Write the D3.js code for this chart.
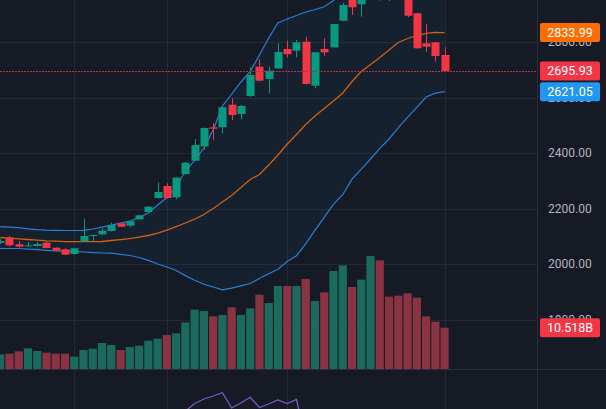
<!DOCTYPE html>
<html><head><meta charset="utf-8">
<script src="https://cdn.jsdelivr.net/npm/d3@7"></script>
<style>html,body{margin:0;padding:0;background:#161a25;overflow:hidden}</style>
</head><body><svg id="c" width="606" height="409"></svg>
<script>
// ---- data ----
const opens  = [2075.7,2096.2,2071,2063.8,2064.9,2076.8,2058.7,2053,2036,2081.8,2100.9,2107,2118.9,2146.7,2138,2161.1,2187.4,2237.8,2281.1,2240.4,2324.3,2372.2,2423.4,2492.6,2492.6,2574.1,2540.5,2605.4,2711,2666.7,2705.2,2774.8,2768.6,2801.1,2642.5,2774.8,2780.9,2876.7,2965,2935.9,2970,3020,2990,2975,2990,2903.4,2795.3,2798.9,2753.2];
const highs  = [2090,2100.9,2082.9,2079.3,2080.4,2081,2060,2058.7,2058,2163.2,2106.3,2128.6,2148.8,2148,2155,2177,2208,2293,2290.8,2313,2367,2450.5,2492,2508.1,2566,2597.1,2573,2708.8,2737.7,2711,2795.3,2804.7,2807.2,2819.1,2764,2813.3,2866,2941.6,2975,2985,3025,3030,3000,2985,3000,2905,2864.9,2800,2780.9];
const lows   = [2072,2063,2059.5,2061.3,2063,2056,2046,2032.4,2034,2079.3,2080.4,2105,2117,2133,2132.3,2160,2186,2236,2236,2233.2,2322,2370,2410.8,2446.8,2471,2518.9,2521.4,2603,2658,2615.1,2703,2744.9,2744.9,2647,2633.2,2750.6,2779,2875,2897.3,2891.2,2960,2949,2948,2955,2890,2776,2765,2729,2695];
const closes = [2082.9,2067.4,2062.3,2067.4,2072.1,2057.7,2047.9,2033.5,2056.6,2100.9,2104.5,2120,2140.5,2134.4,2153.9,2175.5,2206.5,2259.5,2237.8,2311,2365,2428.8,2490.1,2487.6,2564.7,2537,2569.4,2681.1,2660.5,2696.6,2764,2755.7,2798.9,2648.6,2762.9,2762.9,2864.9,2933.3,2925,2970,3010,2980,2965,2960,2894.8,2777.3,2783.1,2749.5,2695.93];
const volumes = [3.73,3.90,4.50,5.26,4.58,4.16,3.90,3.90,3.14,4.83,5.17,6.62,6.11,4.83,5.60,5.94,7.21,7.72,8.65,9.08,11.87,15.10,14.76,13.40,13.74,15.69,13.74,15.44,18.91,16.79,21.12,21.12,21.12,22.90,17.30,19.51,24.94,26.38,20.87,22.73,28.75,27.65,18.41,18.66,19.25,18.15,13.40,12.04,10.518];
const bbBasis = [2095.5,2093,2090.5,2088.3,2085.8,2083.6,2082.2,2080.7,2080.4,2080.4,2080.4,2081.1,2084.7,2087.9,2091.2,2096.6,2102.7,2111.7,2121.8,2134.4,2147.7,2161.4,2178.4,2200,2223.4,2246.8,2275.7,2304.5,2322.5,2356.8,2392.8,2432.4,2466.7,2502.7,2533.3,2560.4,2587.4,2616.2,2657.7,2693.7,2718.9,2744.1,2771.2,2798.2,2812.6,2823.4,2831.3,2834.5,2833.99];
const bbUpper = [2134.4,2132.6,2131.2,2126.8,2123.6,2121.8,2121.1,2120.7,2120.7,2121.1,2126.1,2132.6,2139.8,2147.7,2154.2,2167.6,2183.8,2212.6,2239.6,2277.5,2335.1,2373,2418,2482.9,2569.4,2612.6,2655.9,2693.7,2753.2,2814.4,2868.5,2882.9,2895.5,2908.1,2917.1,2927.2,2949.5,2982.7,3009.5,3045.4,3059.4,3071.6,3091.9,3105.2,3096.6,3082.1,3060.8,3052.9,3046.9];
const bbLower = [2055.9,2055.9,2055.9,2053.7,2051.5,2049.4,2047.6,2046.1,2044.7,2043.2,2041.1,2039.6,2039.3,2035,2030.6,2023.4,2013,2000,1989.2,1976.6,1958.2,1941.3,1927.2,1917.1,1907,1912.8,1921.4,1929.7,1947.7,1965,1980.9,2009,2029.9,2072.8,2121.4,2167.9,2215.5,2249.7,2305.9,2342,2378.4,2416.6,2450.5,2491.2,2528.6,2564.7,2601.8,2615.5,2621.05];
const rsi = [null,null,null,null,null,null,null,null,null,null,null,null,null,null,null,null,null,null,null,45,69,76.5,81,84,87.3,72,77,82.7,72.5,76,80,76.5,80.5,40,null,null,null,null,null,null,null,null,null,null,null,null,null,null,null];
const priceTicks = [1800,2000,2200,2400,2600,2800];
const timeTickIdx = [8,18,31,48];
const lastLabels = [
  {value:2833.99, text:"2833.99", color:"#ff6d00"},
  {value:2695.93, text:"2695.93", color:"#f23645"},
  {value:2621.05, text:"2621.05", color:"#2196f3"}
];
const volLabel = {value:10.518, text:"10.518B", color:"#f23645"};

// ---- layout ----
const W=606,H=409, plotR=537, paneBottom=369;
const svg=d3.select("#c");
const x=d3.scaleLinear().domain([0,48]).range([0.2,444.6]);
const y=d3.scaleLinear().domain([2000,2800]).range([264,42]);
const yv=d3.scaleLinear().domain([0,30]).range([paneBottom,paneBottom-117.9]);
const yr=d3.scaleLinear().domain([0,100]).range([480,380]);
const GREEN="#089981", RED="#f23645";
const VGREEN="#1c6a5d", VRED="#8a3342";
const idx=d3.range(opens.length);

svg.append("rect").attr("width",W).attr("height",H).attr("fill","#161a25");
const defs=svg.append("defs");
defs.append("clipPath").attr("id","main").append("rect").attr("x",0).attr("y",0).attr("width",plotR).attr("height",paneBottom);
defs.append("clipPath").attr("id","low").append("rect").attr("x",0).attr("y",paneBottom+1).attr("width",plotR).attr("height",H-paneBottom);

// grid
const grid=svg.append("g").attr("stroke","#242834").attr("stroke-width",1);
priceTicks.forEach(p=>{
  const yy=Math.round(y(p))+0.5;
  grid.append("line").attr("x1",0).attr("x2",plotR).attr("y1",yy).attr("y2",yy);
});
timeTickIdx.forEach(i=>{
  const xx=Math.round(x(i))+0.5;
  grid.append("line").attr("x1",xx).attr("x2",xx).attr("y1",0).attr("y2",H);
});

const main=svg.append("g").attr("clip-path","url(#main)");

// BB fill
main.append("path").datum(idx)
  .attr("d",d3.area().x(i=>x(i)).y0(i=>y(bbLower[i])).y1(i=>y(bbUpper[i])))
  .attr("fill","rgba(33,150,243,0.06)");

// volume
main.append("g").selectAll("rect").data(idx).join("rect")
  .attr("x",i=>x(i)-4.1).attr("width",8.2)
  .attr("y",i=>yv(volumes[i])).attr("height",i=>paneBottom-yv(volumes[i]))
  .attr("fill",i=>closes[i]>=opens[i]?VGREEN:VRED);

// BB lines
const line=arr=>d3.line().x(i=>x(i)).y(i=>y(arr[i])).curve(d3.curveLinear)(idx);
main.append("path").attr("d",line(bbUpper)).attr("fill","none").attr("stroke","#2a7fd6").attr("stroke-width",1.2);
main.append("path").attr("d",line(bbLower)).attr("fill","none").attr("stroke","#2a7fd6").attr("stroke-width",1.2);
main.append("path").attr("d",line(bbBasis)).attr("fill","none").attr("stroke","#d2600e").attr("stroke-width",1.3);

// candles
const cg=main.append("g");
idx.forEach(i=>{
  const up=closes[i]>=opens[i], col=up?GREEN:RED;
  const cx=Math.round(x(i))+0.5;
  cg.append("line").attr("x1",cx).attr("x2",cx).attr("y1",y(highs[i])).attr("y2",y(lows[i])).attr("stroke",col).attr("stroke-width",1);
  const top=y(Math.max(opens[i],closes[i])), bot=y(Math.min(opens[i],closes[i]));
  cg.append("rect").attr("x",cx-4).attr("width",8).attr("y",top).attr("height",Math.max(1,bot-top)).attr("fill",col);
});

// last price line
const ly=Math.round(y(closes[closes.length-1]))+0.5;
svg.append("line").attr("x1",0).attr("x2",plotR).attr("y1",ly).attr("y2",ly)
  .attr("stroke","#c22f3f").attr("stroke-width",1).attr("stroke-dasharray","2,1");

// lower pane (oscillator)
svg.append("g").attr("clip-path","url(#low)").append("path")
  .attr("d",d3.line().defined(i=>rsi[i]!=null).x(i=>x(i)).y(i=>yr(rsi[i]))(idx))
  .attr("fill","none").attr("stroke","#7e57c2").attr("stroke-width",1.3);

// separators
svg.append("line").attr("x1",0).attr("x2",W).attr("y1",paneBottom+0.5).attr("y2",paneBottom+0.5).attr("stroke","#2a2e39");
svg.append("line").attr("x1",plotR+0.5).attr("x2",plotR+0.5).attr("y1",0).attr("y2",H).attr("stroke","#2a2e39");

// price axis
const ax=svg.append("g").attr("transform",`translate(${plotR+11},0)`)
  .call(d3.axisRight(y).tickValues(priceTicks).tickFormat(d3.format(".2f")).tickSize(0).tickPadding(0));
ax.select(".domain").remove();
ax.selectAll("text").attr("fill","#b2b5be").attr("font-family","Roboto, 'Noto Sans', sans-serif").attr("font-size",12);

// labels
function tag(yy,text,color){
  const g=svg.append("g");
  g.append("rect").attr("x",540).attr("y",yy-9.5).attr("width",60).attr("height",19).attr("rx",2).attr("fill",color);
  g.append("text").attr("x",570).attr("y",yy).attr("dy","0.36em").attr("text-anchor","middle")
    .attr("fill","#ffffff").attr("font-family","Roboto, 'Noto Sans', sans-serif").attr("font-size",12.5).text(text);
}
lastLabels.forEach(l=>tag(y(l.value),l.text,l.color));
tag(yv(volLabel.value),volLabel.text,volLabel.color);
</script></body></html>
